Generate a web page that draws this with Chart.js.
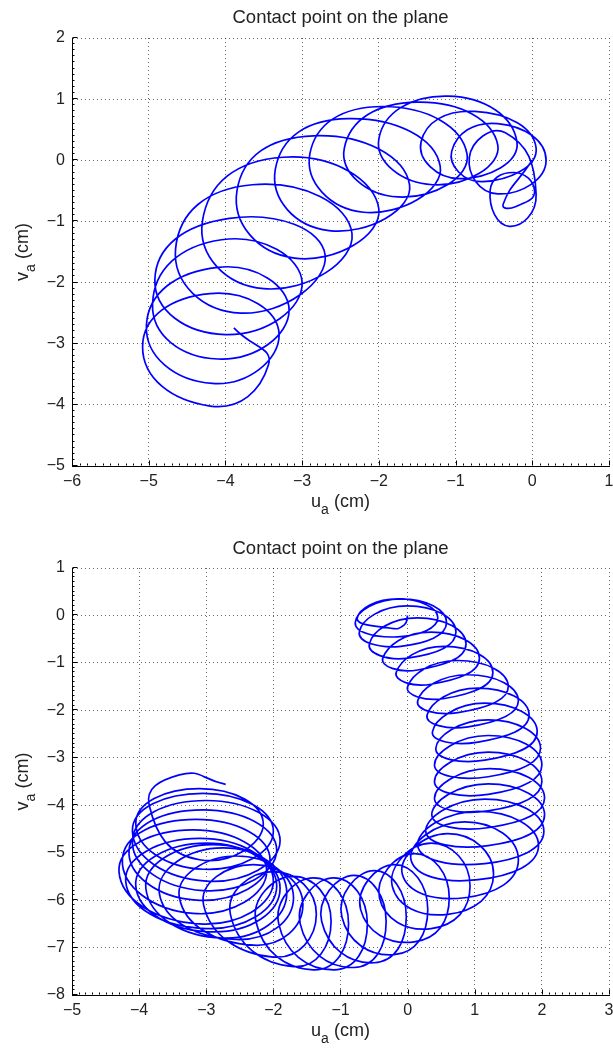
<!DOCTYPE html>
<html lang="en">
<head>
  <meta charset="UTF-8" />
  <title>Contact point on the plane</title>
  <script src="https://cdn.jsdelivr.net/npm/chart.js"></script>
  <style>
    body { margin: 0; background: #fff; }
    canvas { position: absolute; left: 0; }
    #topChart { top: 0; }
    #bottomChart { top: 525px; }
  </style>
</head>
<body>
  <canvas id="topChart" width="613" height="525"></canvas>
  <canvas id="bottomChart" width="613" height="525"></canvas>

  <script>
// top plot: contact point path (u, v in cm)
const topU = [
  0, -0.38,
  -0.22, 0.03, -0.25, -0.55,
  -0.30, 0.05, -0.35, -0.82,
  -0.45, 0.18, -0.45, -1.05,
  -0.65, 0.05, -0.75, -1.45,
  -0.95, -0.20, -1.10, -2.00,
  -1.30, -0.45, -1.50, -2.45,
  -1.75, -0.85, -1.95, -2.90,
  -2.20, -1.20, -2.40, -3.35,
  -2.65, -1.60, -2.85, -3.85,
  -3.10, -2.00, -3.25, -4.30,
  -3.50, -2.35, -3.65, -4.65,
  -3.80, -2.70, -3.95, -4.92,
  -4.00, -3.00, -4.05, -4.95,
  -4.10, -3.17, -4.10, -5.03,
  -4.17, -3.30, -4.20, -5.08,
  -4.20, -3.44, -3.89
];
const topV = [
  0, -0.72,
  -0.76, -0.50, -0.20, -0.50,
  -1.08, -0.55, 0.45, 0.05,
  -0.55, 0.00, 0.60, 0.15,
  -0.35, 0.20, 0.80, 0.30,
  -0.30, 0.30, 1.05, 0.35,
  -0.40, 0.25, 0.95, 0.20,
  -0.60, 0.10, 0.88, 0.10,
  -0.85, -0.10, 0.68, -0.15,
  -1.15, -0.40, 0.40, -0.50,
  -1.60, -0.80, 0.05, -1.00,
  -2.10, -1.20, -0.40, -1.45,
  -2.50, -1.55, -0.95, -1.95,
  -2.85, -2.00, -1.30, -2.35,
  -3.25, -2.45, -1.75, -2.70,
  -3.65, -2.85, -2.18, -3.05,
  -4.02, -3.35, -2.74
];

// bottom plot
const bottomU = [
  0, -0.05, -0.25,
  -0.75, -0.15, 0.45, -0.15,
  -0.78, -0.10, 0.58, -0.10,
  -0.72, 0.00, 0.72, 0.00,
  -0.57, 0.15, 0.87, 0.15,
  -0.37, 0.35, 1.07, 0.35,
  -0.17, 0.55, 1.27, 0.55,
  0.00, 0.75, 1.50, 0.75,
  0.15, 0.90, 1.65, 0.90,
  0.29, 1.05, 1.81, 1.05,
  0.37, 1.15, 1.93, 1.15,
  0.42, 1.20, 1.98, 1.20,
  0.40, 1.20, 2.00, 1.20,
  0.40, 1.20, 2.00, 1.20,
  0.40, 1.22, 2.04, 1.22,
  0.36, 1.20, 2.04, 1.20,
  0.27, 1.15, 2.03, 1.15,
  0.15, 1.05, 1.95, 1.05,
  0.05, 0.85, 1.65, 0.85,
  -0.08, 0.60, 1.28, 0.60,
  -0.23, 0.35, 0.93, 0.35,
  -0.42, 0.10, 0.62, 0.10,
  -0.70, -0.20, 0.30, -0.20,
  -0.98, -0.50, -0.02, -0.50,
  -1.28, -0.80, -0.32, -0.80,
  -1.60, -1.10, -0.60, -1.10,
  -1.92, -1.40, -0.88, -1.40,
  -2.26, -1.70, -1.14, -1.70,
  -2.64, -2.00, -1.36, -2.00,
  -3.04, -2.30, -1.56, -2.30,
  -3.40, -2.55, -1.70, -2.55,
  -3.70, -2.75, -1.80, -2.75,
  -3.90, -2.90, -1.90, -2.90,
  -4.05, -3.00, -1.95, -3.00,
  -4.20, -3.10, -2.00, -3.10,
  -4.30, -3.20, -2.10, -3.20,
  -4.25, -3.15, -2.05, -3.15,
  -4.15, -3.05, -1.95, -3.05,
  -4.10, -3.00, -1.90, -3.00,
  -4.10, -3.05, -2.00, -3.05,
  -4.05, -3.10, -2.15, -3.10,
  -3.85, -3.40, -2.71
];
const bottomV = [
  0, -0.20, -0.27,
  -0.05, 0.35, -0.05, -0.45,
  -0.15, 0.35, -0.15, -0.65,
  -0.35, 0.20, -0.35, -0.90,
  -0.60, -0.05, -0.60, -1.15,
  -0.90, -0.35, -0.90, -1.45,
  -1.20, -0.65, -1.20, -1.75,
  -1.50, -0.95, -1.50, -2.05,
  -1.80, -1.25, -1.80, -2.35,
  -2.10, -1.53, -2.10, -2.67,
  -2.45, -1.85, -2.45, -3.05,
  -2.80, -2.20, -2.80, -3.40,
  -3.15, -2.53, -3.15, -3.77,
  -3.50, -2.88, -3.50, -4.12,
  -3.85, -3.23, -3.85, -4.47,
  -4.20, -3.55, -4.20, -4.85,
  -4.55, -3.87, -4.55, -5.23,
  -4.85, -4.13, -4.85, -5.57,
  -5.15, -4.35, -5.15, -5.95,
  -5.45, -4.60, -5.45, -6.30,
  -5.70, -4.80, -5.70, -6.60,
  -5.95, -5.02, -5.95, -6.88,
  -6.20, -5.25, -6.20, -7.15,
  -6.35, -5.38, -6.35, -7.32,
  -6.45, -5.48, -6.45, -7.42,
  -6.50, -5.53, -6.50, -7.47,
  -6.50, -5.53, -6.50, -7.47,
  -6.45, -5.50, -6.45, -7.40,
  -6.30, -5.40, -6.30, -7.20,
  -6.10, -5.25, -6.10, -6.95,
  -5.95, -5.07, -5.95, -6.83,
  -5.85, -4.90, -5.85, -6.80,
  -5.75, -4.83, -5.75, -6.67,
  -5.70, -4.80, -5.70, -6.60,
  -5.60, -4.70, -5.60, -6.50,
  -5.40, -4.52, -5.40, -6.28,
  -5.15, -4.30, -5.15, -6.00,
  -4.95, -4.10, -4.95, -5.80,
  -4.75, -3.90, -4.75, -5.60,
  -4.55, -3.75, -4.55, -5.35,
  -4.40, -3.65, -4.40, -5.15,
  -4.00, -3.36, -3.56
];

const topXTicks = [-6, -5, -4, -3, -2, -1, 0, 1];
const topYTicks = [-5, -4, -3, -2, -1, 0, 1, 2];
const bottomXTicks = [-5, -4, -3, -2, -1, 0, 1, 2, 3];
const bottomYTicks = [-8, -7, -6, -5, -4, -3, -2, -1, 0, 1];

const FONT = '"Liberation Sans", Arial, Helvetica, sans-serif';
const TEXT = '#222';

function toPoints(us, vs) {
  return us.map((u, i) => ({ x: u, y: vs[i] }));
}
function minus(v) {
  return String(v).replace('-', '\u2212');
}

// draws "base" + subscript + rest, centred on (x, y) baseline
function subLabel(ctx, base, sub, rest, x, y, size) {
  const f = size + 'px ' + FONT;
  const fs = Math.round(size * 0.75) + 'px ' + FONT;
  ctx.font = f;
  const w1 = ctx.measureText(base).width;
  const w3 = ctx.measureText(rest).width;
  ctx.font = fs;
  const w2 = ctx.measureText(sub).width;
  let sx = x - (w1 + w2 + w3) / 2;
  ctx.textAlign = 'left';
  ctx.textBaseline = 'alphabetic';
  ctx.font = f; ctx.fillText(base, sx, y); sx += w1;
  ctx.font = fs; ctx.fillText(sub, sx, y + size * 0.4); sx += w2;
  ctx.font = f; ctx.fillText(rest, sx, y);
}

// matlab look: inward ticks, title, subscripted axis labels
const matlabPlugin = {
  id: 'matlab',
  afterDraw(chart, args, opts) {
    const { ctx, chartArea: a, scales: { x, y } } = chart;
    ctx.save();
    ctx.strokeStyle = '#000';
    ctx.lineWidth = 1;
    ctx.beginPath();
    const bx = Math.round(a.bottom) - 0.5, lx = Math.round(a.left) + 0.5;
    for (let v = x.min; v <= x.max + 1e-6; v += 0.1) {
      const px = Math.round(x.getPixelForValue(v)) + 0.5;
      const major = Math.abs(v - Math.round(v)) < 1e-6;
      ctx.moveTo(px, bx); ctx.lineTo(px, bx - (major ? 5 : 2));
    }
    for (let v = y.min; v <= y.max + 1e-6; v += 0.1) {
      const py = Math.round(y.getPixelForValue(v)) - 0.5;
      const major = Math.abs(v - Math.round(v)) < 1e-6;
      ctx.moveTo(lx, py); ctx.lineTo(lx + (major ? 5 : 2), py);
    }
    ctx.stroke();

    ctx.fillStyle = TEXT;
    ctx.font = opts.titleSize + 'px ' + FONT;
    ctx.textAlign = 'center';
    ctx.textBaseline = 'middle';
    ctx.fillText(opts.title, (a.left + a.right) / 2, opts.titleY);

    subLabel(ctx, 'u', 'a', ' (cm)', (a.left + a.right) / 2, a.bottom + 41, opts.labelSize);

    ctx.translate(28, (a.top + a.bottom) / 2);
    ctx.rotate(-Math.PI / 2);
    subLabel(ctx, 'v', 'a', ' (cm)', 0, 0, opts.labelSize);
    ctx.restore();
  }
};

function axis(ticks, isX, size) {
  return {
    type: 'linear',
    min: ticks[0],
    max: ticks[ticks.length - 1],
    afterBuildTicks: s => { s.ticks = ticks.map(value => ({ value })); },
    afterFit: s => {
      if (isX) { s.height = size; s.paddingLeft = 0; s.paddingRight = 0; }
      else { s.width = size; s.paddingTop = 0; s.paddingBottom = 0; }
    },
    ticks: {
      font: { family: FONT, size: 16 },
      color: TEXT,
      padding: isX ? 6 : 7,
      maxRotation: 0,
      autoSkip: false,
      callback: v => minus(v)
    },
    grid: { color: 'rgba(0,0,0,0.6)', lineWidth: 1, drawTicks: false },
    border: { display: true, color: '#000', width: 1, dash: [1, 3] }
  };
}

function makeChart(id, us, vs, xTicks, yTicks, padTop, xAxisH, titleY) {
  return new Chart(document.getElementById(id), {
    type: 'scatter',
    data: {
      datasets: [{
        data: toPoints(us, vs),
        showLine: true,
        borderColor: '#0000ff',
        borderWidth: 1.7,
        pointRadius: 0,
        tension: 0.55,
        fill: false
      }]
    },
    options: {
      responsive: false,
      animation: false,
      events: [],
      layout: { padding: { top: padTop, right: 4, left: 0, bottom: 0 } },
      plugins: {
        legend: { display: false },
        tooltip: { enabled: false },
        matlab: { title: 'Contact point on the plane', titleY: titleY, titleSize: 18.5, labelSize: 18 }
      },
      scales: {
        x: axis(xTicks, true, xAxisH),
        y: axis(yTicks, false, 72)
      }
    },
    plugins: [matlabPlugin]
  });
}

makeChart('topChart', topU, topV, topXTicks, topYTicks, 38, 59, 18);
makeChart('bottomChart', bottomU, bottomV, bottomXTicks, bottomYTicks, 43, 55, 24);
  </script>
</body>
</html>
